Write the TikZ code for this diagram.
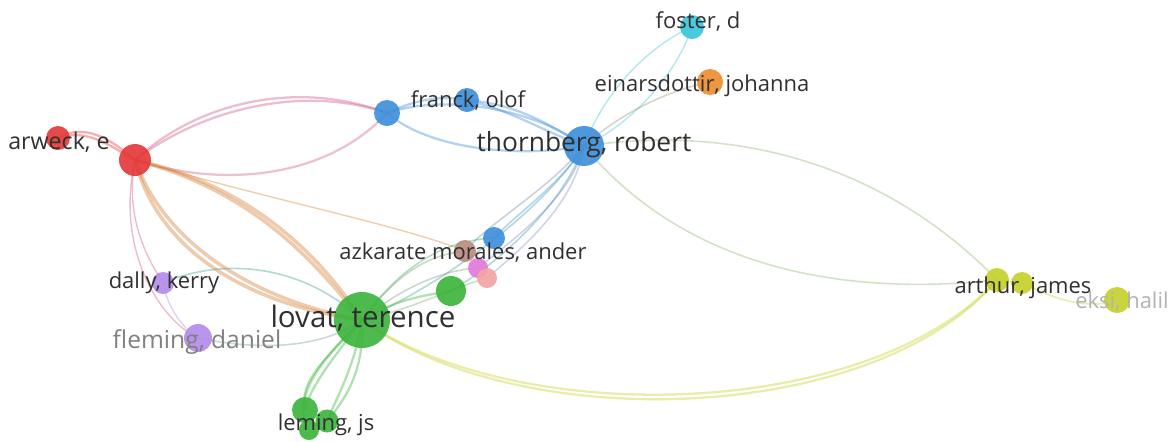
\documentclass[tikz,border=0pt]{standalone}
\usepackage{fontspec}
\setmainfont{Open Sans}
\usetikzlibrary{backgrounds}

\definecolor{cred}{HTML}{E43A3A}
\definecolor{cblue}{HTML}{3F8FDA}
\definecolor{cgreen}{HTML}{3DB43D}
\definecolor{cpurple}{HTML}{B48CEA}
\definecolor{ccyan}{HTML}{3CC6DA}
\definecolor{corange}{HTML}{EE8E2E}
\definecolor{cyellow}{HTML}{C6D12C}
\definecolor{cbrown}{HTML}{BB8C80}
\definecolor{cpink}{HTML}{E27ADA}
\definecolor{csalmon}{HTML}{F2A4A4}
\definecolor{ctext}{HTML}{303030}

\tikzset{
  author/.style={circle, inner sep=0pt, fill=#1, fill opacity=0.92},
  link/.style={line width=1.3pt, draw opacity=0.4},
  lab/.style={inner sep=0pt, text=ctext, font=\fontsize{12.5}{14}\selectfont},
  biglab/.style={inner sep=0pt, text=ctext, font=\fontsize{15}{18}\selectfont},
}

\begin{document}
\begin{tikzpicture}[x=0.02cm, y=-0.02cm]
\useasboundingbox (0,0) rectangle (1173,441);

% authors
\node[author=cred, minimum size=0.48cm] (arw) at (58,138) {};
\node[author=cred, minimum size=0.64cm] (red) at (135,160) {};
\node[author=cblue, minimum size=0.52cm] (bl1) at (387,113) {};
\node[author=cblue, minimum size=0.48cm] (fra) at (467,100) {};
\node[author=cblue, minimum size=0.8cm] (tho) at (584,146) {};
\node[author=ccyan, minimum size=0.48cm] (fos) at (692,27) {};
\node[author=corange, minimum size=0.52cm] (ein) at (710,82) {};
\node[author=cblue, minimum size=0.44cm] (bl2) at (494,238) {};
\node[author=cbrown, minimum size=0.44cm] (azk) at (465,251) {};
\node[author=cpink, minimum size=0.4cm] (pnk) at (478,268) {};
\node[author=csalmon, minimum size=0.4cm] (slm) at (487,278) {};
\node[author=cgreen, minimum size=0.6cm] (grn) at (451,291) {};
\node[author=cgreen, minimum size=1.12cm] (lov) at (362,320) {};
\node[author=cpurple, minimum size=0.44cm] (dal) at (163,283) {};
\node[author=cpurple, minimum size=0.56cm] (fle) at (198,338) {};
\node[author=cgreen, minimum size=0.52cm] (le1) at (305,410) {};
\node[author=cgreen, minimum size=0.46cm] (le2) at (327,421) {};
\node[author=cgreen, minimum size=0.4cm] (le3) at (309,430) {};
\node[author=cyellow, minimum size=0.48cm] (ar1) at (997,280) {};
\node[author=cyellow, minimum size=0.44cm] (ar2) at (1022,283) {};
\node[author=cyellow, minimum size=0.52cm] (eks) at (1117,300) {};

\begin{scope}[on background layer]
% red cluster
\draw[link, cred] (arw.center) .. controls (85,122) and (112,140) .. (red.center);
\draw[link, cred] (arw.center) .. controls (88,128) and (110,146) .. (red.center);
\draw[link, cred!60!cpurple] (red.center) .. controls (200,100) and (300,80) .. (bl1.center);
\draw[link, cred!60!cpurple] (red.center) .. controls (205,107) and (305,85) .. (bl1.center);
\draw[link, cred!50!cpurple] (red.center) .. controls (230,190) and (330,175) .. (bl1.center);
\draw[link, cred!55!cyellow, line width=2pt] (red.center) .. controls (250,185) and (320,255) .. (lov.center);
\draw[link, cred!55!cyellow, line width=2pt] (red.center) .. controls (256,192) and (314,262) .. (lov.center);
\draw[link, cred!55!cyellow, line width=2pt] (red.center) .. controls (165,245) and (255,300) .. (lov.center);
\draw[link, cred!55!cyellow, line width=2pt] (red.center) .. controls (158,252) and (250,305) .. (lov.center);
\draw[link, cred!60!cpurple, line width=0.8pt] (red.center) .. controls (125,215) and (145,255) .. (dal.center);
\draw[link, cred!60!cpurple, line width=0.8pt] (red.center) .. controls (115,250) and (160,320) .. (fle.center);
\draw[link, cred!50!cyellow, line width=0.8pt] (red.center) .. controls (270,200) and (400,225) .. (azk.center);
% blue cluster
\draw[link, cblue] (bl1.center) .. controls (415,100) and (440,95) .. (fra.center);
\draw[link, cblue] (bl1.center) .. controls (430,150) and (520,158) .. (tho.center);
\draw[link, cblue] (bl1.center) .. controls (450,92) and (540,112) .. (tho.center);
\draw[link, cblue] (fra.center) .. controls (520,105) and (550,125) .. (tho.center);
\draw[link, cblue] (fra.center) .. controls (515,112) and (545,132) .. (tho.center);
\draw[link, ccyan, line width=0.8pt] (tho.center) .. controls (605,90) and (650,45) .. (fos.center);
\draw[link, ccyan, line width=0.8pt] (tho.center) .. controls (640,120) and (680,65) .. (fos.center);
\draw[link, corange!60!cblue, line width=0.9pt] (tho.center) .. controls (630,105) and (680,88) .. (ein.center);
\draw[link, cblue, line width=0.9pt] (tho.center) .. controls (560,185) and (515,215) .. (bl2.center);
\draw[link, cblue!60!cbrown, line width=0.9pt] (tho.center) .. controls (548,190) and (490,222) .. (azk.center);
\draw[link, cblue!60!cpink, line width=0.9pt] (tho.center) .. controls (570,200) and (512,240) .. (pnk.center);
\draw[link, cblue!60!csalmon, line width=0.9pt] (tho.center) .. controls (575,205) and (520,250) .. (slm.center);
\draw[link, cblue!60!cgreen, line width=0.9pt] (tho.center) .. controls (560,210) and (495,265) .. (grn.center);
\draw[link, cblue!60!cgreen, line width=0.9pt] (tho.center) .. controls (540,215) and (440,285) .. (lov.center);
% towards arthur
\draw[link, cblue!40!cyellow, line width=0.9pt] (tho.center) .. controls (800,115) and (935,215) .. (ar1.center);
\draw[link, cblue!40!cyellow, line width=0.9pt] (tho.center) .. controls (670,250) and (810,300) .. (ar1.center);
\draw[link, cyellow] (lov.center) .. controls (520,430) and (870,420) .. (ar1.center);
\draw[link, cyellow] (lov.center) .. controls (520,437) and (875,425) .. (ar1.center);
\draw[link, cyellow, line width=0.9pt] (ar1.center) -- (ar2.center);
\draw[link, cyellow, line width=0.9pt] (ar2.center) .. controls (1055,300) and (1090,310) .. (eks.center);
% green cluster
\draw[link, cgreen] (lov.center) .. controls (395,300) and (420,296) .. (grn.center);
\draw[link, cgreen!60!cbrown, line width=0.9pt] (lov.center) .. controls (400,270) and (430,255) .. (azk.center);
\draw[link, cgreen!60!cpink, line width=0.9pt] (lov.center) .. controls (405,285) and (445,270) .. (pnk.center);
\draw[link, cgreen!60!csalmon, line width=0.9pt] (lov.center) .. controls (410,310) and (460,285) .. (slm.center);
\draw[link, cgreen!60!cblue, line width=0.9pt] (lov.center) .. controls (405,260) and (450,240) .. (bl2.center);
\draw[link, cgreen] (lov.center) .. controls (330,355) and (298,380) .. (le1.center);
\draw[link, cgreen] (lov.center) .. controls (340,350) and (310,385) .. (le1.center);
\draw[link, cgreen] (lov.center) .. controls (355,365) and (338,395) .. (le2.center);
\draw[link, cgreen] (lov.center) .. controls (365,370) and (345,400) .. (le2.center);
\draw[link, cgreen] (lov.center) .. controls (320,360) and (290,400) .. (le3.center);
\draw[link, cgreen!50!cblue, line width=0.9pt] (lov.center) .. controls (300,262) and (220,258) .. (dal.center);
\draw[link, cgreen!50!cpurple, line width=0.9pt] (lov.center) .. controls (320,350) and (255,350) .. (fle.center);
\draw[link, cpurple, line width=0.8pt] (dal.center) .. controls (168,310) and (185,330) .. (fle.center);
\end{scope}

% labels
\node[lab, font=\fontsize{13.2}{15}\selectfont] (tarw) at (59,142) {arweck, e};
\node[lab] (tfra) at (468,101) {franck, olof};
\node[biglab] (ttho) at (584,145) {thornberg, robert};
\node[lab] (tfos) at (698,22) {foster, d};
\node[lab] (tein) at (702,86) {einarsdottir, johanna};
\node[lab] (tazk) at (463,253) {azkarate morales, ander};
\node[biglab, font=\fontsize{16.8}{18}\selectfont] (tlov) at (363,318) {lovat, terence};
\node[lab] (tdal) at (164,283) {dally, kerry};
\node[lab, text=gray, font=\fontsize{14}{16}\selectfont] (tfle) at (197,342) {fleming, daniel};
\node[lab] (tlem) at (326,425) {leming, js};
\node[lab] (tart) at (1023,288) {arthur, james};
\node[lab, text=gray!60] (teks) at (1122,302) {eksi, halil};
\end{tikzpicture}
\end{document}
